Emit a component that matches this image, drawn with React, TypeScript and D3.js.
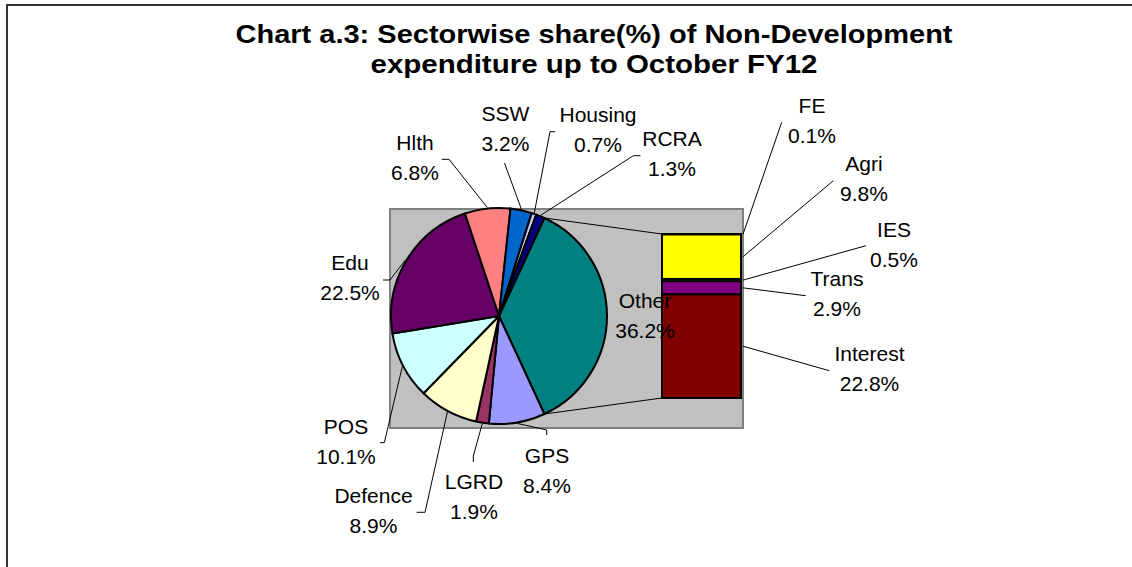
import React from "react";
import * as d3 from "d3";

// ---- data ----
const pieLabels = ["Other", "GPS", "LGRD", "Defence", "POS", "Edu", "Hlth", "SSW", "Housing", "RCRA"];
const pieValues = [36.2, 8.4, 1.9, 8.9, 10.1, 22.5, 6.8, 3.2, 0.7, 1.3];
const pieColors = ["#008080", "#9999FF", "#993366", "#FFFFCC", "#CCFFFF", "#660066", "#FF8080", "#0066CC", "#CCCCFF", "#000080"];

const barLabels = ["FE", "Agri", "IES", "Trans", "Interest"];
const barValues = [0.1, 9.8, 0.5, 2.9, 22.8];
const barColors = ["#FF00FF", "#FFFF00", "#00FFFF", "#800080", "#800000"];

const titleLines = ["Chart a.3: Sectorwise share(%) of Non-Development", "expenditure up to October FY12"];

// ---- layout (label placement, leader elbows) ----
const labelLayout: Record<string, { x: number; y: number; elbow: [number, number][] }> = {
  GPS: { x: 547, y: 462.5, elbow: [[546.7, 435], [546.7, 430]] },
  LGRD: { x: 474, y: 488.5, elbow: [[473.3, 462], [473.3, 456]] },
  Defence: { x: 373.5, y: 502.5, elbow: [[416.7, 512.3], [425, 512.3]] },
  POS: { x: 346, y: 433.5, elbow: [[380, 442.7], [384.3, 442.7]] },
  Edu: { x: 350, y: 270, elbow: [[383, 280], [390, 280]] },
  Hlth: { x: 415, y: 149.5, elbow: [[441.7, 159.3], [449, 159.3]] },
  SSW: { x: 505.5, y: 120.5, elbow: [[504.5, 163], [504.5, 163]] },
  Housing: { x: 598, y: 121.5, elbow: [[555, 131.7], [550, 131.7]] },
  RCRA: { x: 672, y: 146, elbow: [[640.5, 155.7], [633.3, 155.7]] },
  FE: { x: 812, y: 112.5, elbow: [[781.7, 122.3]] },
  Agri: { x: 864, y: 171, elbow: [[833.3, 180.7]] },
  IES: { x: 894, y: 237, elbow: [[866, 245.7]] },
  Trans: { x: 837, y: 285.5, elbow: [[805.7, 295.7]] },
  Interest: { x: 869.5, y: 361, elbow: [[829.3, 370.7]] },
};

const W = 1132;
const H = 567;
const cx = 499;
const cy = 316;
const R = 108;
const barX0 = 662;
const barX1 = 741;
const barTop = 234;
const barBottom = 398;
const FONT = "'Liberation Sans', Arial, Helvetica, sans-serif";
const LABEL_SIZE = 21;
const LINE_GAP = 30;

export default function App() {
  const otherFrac = pieValues[0] / d3.sum(pieValues);
  const start = Math.PI / 2 - otherFrac * Math.PI;
  const pie = d3
    .pie<number>()
    .sort(null)
    .value((d) => d)
    .startAngle(start)
    .endAngle(start + 2 * Math.PI);
  const arcs = pie(pieValues);
  const arcGen = d3.arc<d3.PieArcDatum<number>>().innerRadius(0).outerRadius(R);
  const edge = (a: number, r = R): [number, number] => [cx + r * Math.sin(a), cy - r * Math.cos(a)];

  const yScale = d3.scaleLinear().domain([0, d3.sum(barValues)]).range([barTop, barBottom]);
  let acc = 0;
  const barSegs = barValues.map((v, i) => {
    const s = { label: barLabels[i], value: v, y0: yScale(acc), y1: yScale(acc + v), color: barColors[i] };
    acc += v;
    return s;
  });

  const otherArc = arcs[0];
  const topPt = edge(otherArc.startAngle);
  const botPt = edge(otherArc.endAngle);

  const fmt = (v: number) => v.toFixed(1) + "%";
  const line = d3.line();

  const leaders: { pts: [number, number][] }[] = [];
  const labels: { name: string; value: number }[] = [];
  arcs.forEach((a, i) => {
    if (i === 0) return;
    const name = pieLabels[i];
    const lay = labelLayout[name];
    const mid = (a.startAngle + a.endAngle) / 2;
    leaders.push({ pts: [...lay.elbow, edge(mid, R + 1)] });
    labels.push({ name, value: pieValues[i] });
  });
  barSegs.forEach((s) => {
    const lay = labelLayout[s.label];
    leaders.push({ pts: [...lay.elbow, [barX1 + 2, (s.y0 + s.y1) / 2]] });
    labels.push({ name: s.label, value: s.value });
  });

  return (
    <svg width={W} height={H} style={{ position: "absolute", left: 0, top: 0, background: "#fff" }} fontFamily={FONT}>
      <rect x={0} y={0} width={W} height={H} fill="#fff" />
      <rect x={7} y={5} width={W + 20} height={H + 20} fill="#fff" stroke="#333" strokeWidth={2} />
      {titleLines.map((t, i) => (
        <text
          key={i}
          x={594}
          y={42.5 + i * 30}
          textAnchor="middle"
          fontWeight="bold"
          fontSize={26}
          textLength={i === 0 ? 717 : 447}
          lengthAdjust="spacingAndGlyphs"
          fill="#000"
        >
          {t}
        </text>
      ))}
      <rect x={390} y={209} width={353} height={219} fill="#C0C0C0" stroke="#808080" strokeWidth={2} />
      <line x1={topPt[0]} y1={topPt[1]} x2={barX0} y2={barTop} stroke="#000" strokeWidth={1} />
      <line x1={botPt[0]} y1={botPt[1]} x2={barX0} y2={barBottom} stroke="#000" strokeWidth={1} />
      <g transform={`translate(${cx},${cy})`}>
        {arcs.map((a, i) => (
          <path key={i} d={arcGen(a) || ""} fill={pieColors[i]} stroke="#000" strokeWidth={2} strokeLinejoin="round" />
        ))}
      </g>
      {barSegs.map((s, i) => (
        <rect key={i} x={barX0} y={s.y0} width={barX1 - barX0} height={s.y1 - s.y0} fill={s.color} stroke="#000" strokeWidth={2} />
      ))}
      {leaders.map((l, i) => (
        <path key={i} d={line(l.pts) || ""} fill="none" stroke="#000" strokeWidth={1} />
      ))}
      {labels.map((l, i) => {
        const lay = labelLayout[l.name];
        return (
          <text key={i} x={lay.x} textAnchor="middle" fontSize={LABEL_SIZE} fill="#000">
            <tspan x={lay.x} y={lay.y}>
              {l.name}
            </tspan>
            <tspan x={lay.x} y={lay.y + LINE_GAP}>
              {fmt(l.value)}
            </tspan>
          </text>
        );
      })}
      <text x={645} textAnchor="middle" fontSize={LABEL_SIZE} fill="#000">
        <tspan x={645} y={308}>
          {pieLabels[0]}
        </tspan>
        <tspan x={645} y={337.5}>
          {fmt(pieValues[0])}
        </tspan>
      </text>
    </svg>
  );
}
